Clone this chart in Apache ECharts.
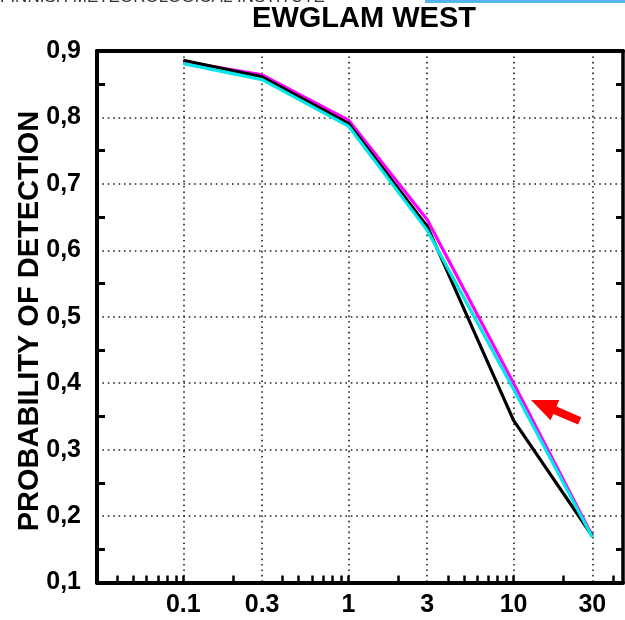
<!DOCTYPE html>
<html>
<head>
<meta charset="utf-8">
<script src="https://cdn.jsdelivr.net/npm/echarts@6/dist/echarts.min.js"></script>
<style>html,body{margin:0;padding:0;background:#fff;}#c{width:625px;height:620px;}</style>
</head>
<body>
<div id="c"></div>
<script>
const xCats = [0.1, 0.3, 1, 3, 10, 30];
const xLabels = ['0.1', '0.3', '1', '3', '10', '30'];
const xMinorTicks = [0.04, 0.05, 0.06, 0.07, 0.08, 0.09, 0.1, 0.2, 0.4, 0.5, 0.6, 0.7, 0.8, 0.9, 1, 2, 4, 5, 6, 7, 8, 9, 10, 20, 40];
const yMinorTicks = [0.15, 0.25, 0.35, 0.45, 0.55, 0.65, 0.75, 0.85];
const blackVals = [0.886, 0.861, 0.791, 0.636, 0.344, 0.170];
const cyanVals = [0.881, 0.857, 0.787, 0.630, 0.391, 0.168];
const magentaVals = [0.884, 0.864, 0.796, 0.646, 0.400, 0.170];

const chart = echarts.init(document.getElementById('c'), null, {renderer: 'canvas'});
const FONT = '"Liberation Sans", Arial, sans-serif';
const pairs = vals => xCats.map((x, i) => [x, vals[i]]);
const dotted = {color: '#222', width: 1.6, type: [1.6, 3.8]};
const xBase = {type: 'log', min: 0.03, max: 46, gridIndex: 0};

chart.setOption({
  animation: false,
  backgroundColor: '#fff',
  grid: {left: 97, right: 2, top: 51, bottom: 37.5, containLabel: false, outerBoundsMode: 'none',
         show: false},
  xAxis: [
    Object.assign({}, xBase, {
      position: 'bottom',
      axisLine: {show: true, lineStyle: {color: '#000', width: 4}},
      axisTick: {show: false, customValues: xCats},
      axisLabel: {customValues: xCats, margin: 10, color: '#000', fontSize: 25, fontWeight: 'bold', fontFamily: FONT,
                  formatter: v => { const i = xCats.findIndex(c => Math.abs(c - v) < 1e-9); return i >= 0 ? xLabels[i] : ''; }},
      splitLine: {show: true, lineStyle: dotted},
      minorTick: {show: false}
    }),
    Object.assign({}, xBase, {
      position: 'bottom',
      axisLine: {show: false},
      axisTick: {show: true, inside: true, length: 7, lineStyle: {color: '#000', width: 2.5}, customValues: xMinorTicks},
      axisLabel: {show: false, customValues: xMinorTicks},
      splitLine: {show: false}
    }),
    Object.assign({}, xBase, {
      position: 'top',
      axisLine: {show: true, lineStyle: {color: '#000', width: 4}},
      axisTick: {show: false},
      axisLabel: {show: false},
      splitLine: {show: false}
    })
  ],
  yAxis: [
    {
      type: 'value', min: 0.1, max: 0.9, interval: 0.1, position: 'left',
      axisLine: {show: true, lineStyle: {color: '#000', width: 4}},
      axisTick: {show: false},
      axisLabel: {margin: 16, color: '#000', fontSize: 25, fontWeight: 'bold', fontFamily: FONT,
                  formatter: v => v.toFixed(1).replace('.', ',')},
      splitLine: {show: true, lineStyle: dotted}
    },
    {
      type: 'value', min: 0.1, max: 0.9, interval: 0.1, position: 'left',
      axisLine: {show: false},
      axisTick: {show: true, inside: true, length: 8, lineStyle: {color: '#000', width: 3}, customValues: yMinorTicks},
      axisLabel: {show: false, customValues: yMinorTicks},
      splitLine: {show: false}
    },
    {
      type: 'value', min: 0.1, max: 0.9, interval: 0.1, position: 'right',
      axisLine: {show: true, lineStyle: {color: '#000', width: 3.5}},
      axisTick: {show: true, inside: true, length: 7, lineStyle: {color: '#000', width: 3}, customValues: yMinorTicks},
      axisLabel: {show: false, customValues: yMinorTicks},
      splitLine: {show: false}
    }
  ],
  series: [
    {type: 'line', name: 'magenta', data: pairs(magentaVals), symbol: 'none', z: 3,
     lineStyle: {color: '#ff00ff', width: 3.2}},
    {type: 'line', name: 'black', data: pairs(blackVals), symbol: 'none', z: 4,
     lineStyle: {color: '#000000', width: 3.2}},
    {type: 'line', name: 'cyan', data: pairs(cyanVals), symbol: 'none', z: 5,
     lineStyle: {color: '#00e8e8', width: 3.2}}
  ],
  graphic: [
    {type: 'text', x: 0, y: 5.5, silent: true,
     style: {text: 'FINNISH METEOROLOGICAL INSTITUTE', font: '17px ' + FONT, fill: '#333', textVerticalAlign: 'bottom'}},
    {type: 'rect', shape: {x: 425, y: 0, width: 200, height: 3}, style: {fill: '#55b4ec'}},
    {type: 'text', x: 364, y: 19, silent: true,
     style: {text: 'EWGLAM WEST', font: 'bold 29px ' + FONT, fill: '#000', textAlign: 'center', textVerticalAlign: 'middle'}},
    {type: 'text', x: 30, y: 321, rotation: Math.PI / 2, silent: true,
     style: {text: 'PROBABILITY OF DETECTION', font: 'bold 29px ' + FONT, fill: '#000', textAlign: 'center', textVerticalAlign: 'middle'}},
    {type: 'polygon', z: 10, silent: true,
     shape: {points: [[531, 400], [559.2, 400.1], [556.5, 406.6], [581.3, 417.2], [578.1, 424.6], [553.3, 413.9], [550.6, 420.3]]},
     style: {fill: '#ff0000'}}
  ]
});
</script>
</body>
</html>
